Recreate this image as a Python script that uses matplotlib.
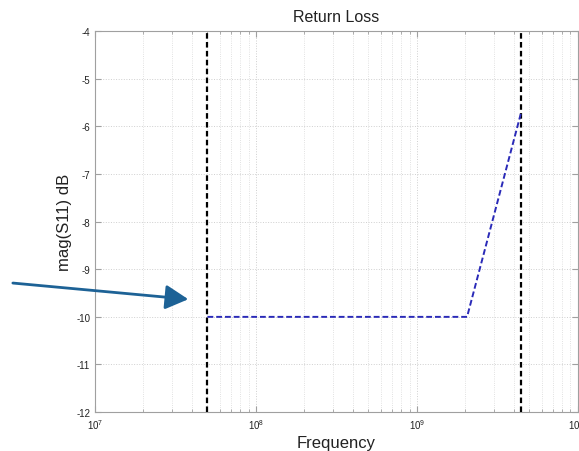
import matplotlib
matplotlib.use("Agg")
import matplotlib.pyplot as plt
from matplotlib.ticker import LogLocator, FixedLocator

plt.rcParams['font.family'] = ['Liberation Sans', 'DejaVu Sans']
plt.rcParams['axes.unicode_minus'] = False

# Return-loss response (frequency in Hz, magnitude in dB)
freq_hz = [5e7, 2.05e9, 4.45e9]
s11_db = [-10.0, -10.0, -5.7]

# Band edges marked with vertical lines
band_edges_hz = [5e7, 4.45e9]

x_limits = [1e7, 1e10]
y_ticks = [-12, -11, -10, -9, -8, -7, -6, -5, -4]

fig = plt.figure(figsize=(5.79, 4.52), dpi=100)
ax = fig.add_axes([0.164, 0.086, 0.834, 0.843])

ax.set_xscale('log')
ax.set_xlim(x_limits)
ax.set_ylim(y_ticks[0], y_ticks[-1])
ax.yaxis.set_major_locator(FixedLocator(y_ticks))
ax.xaxis.set_major_locator(LogLocator(base=10, numticks=10))
ax.xaxis.set_minor_locator(LogLocator(base=10, subs=range(2, 10), numticks=20))

ax.grid(True, which='major', color='#cfcfcf', linestyle=':', linewidth=0.7)
ax.grid(True, which='minor', axis='x', color='#d8d8d8', linestyle=':', linewidth=0.6)

for edge in band_edges_hz:
    ax.axvline(edge, color='black', linestyle=(0, (2.5, 1.5)), linewidth=1.6, zorder=3)

ax.plot(freq_hz, s11_db, color='#2a2ab8', linestyle=(0, (3, 1.5)), linewidth=1.4, zorder=4)

for s in ax.spines.values():
    s.set_color('#a0a0a0')
    s.set_linewidth(0.8)
ax.tick_params(which='both', direction='in', top=True, right=True, colors='#a0a0a0',
               labelcolor='#222222', labelsize=7)
ax.tick_params(which='major', length=4)
ax.tick_params(which='minor', length=2.5)

ax.set_title('Return Loss', fontsize=11.5, color='#222222', pad=7)
ax.set_xlabel('Frequency', fontsize=12, color='#222222', labelpad=3)
ax.set_ylabel('mag(S11) dB', fontsize=12, color='#222222', labelpad=3)

# Callout arrow pointing at the lower band edge
ax.annotate('', xy=(3.8e7, -9.63), xycoords='data',
            xytext=(-0.17, -9.29), textcoords=('axes fraction', 'data'),
            arrowprops=dict(arrowstyle='-|>,head_length=1.4,head_width=0.75',
                            color='#1d6296', linewidth=2.0, shrinkA=0, shrinkB=0),
            annotation_clip=False)

fig.savefig('out.png', dpi=100)
